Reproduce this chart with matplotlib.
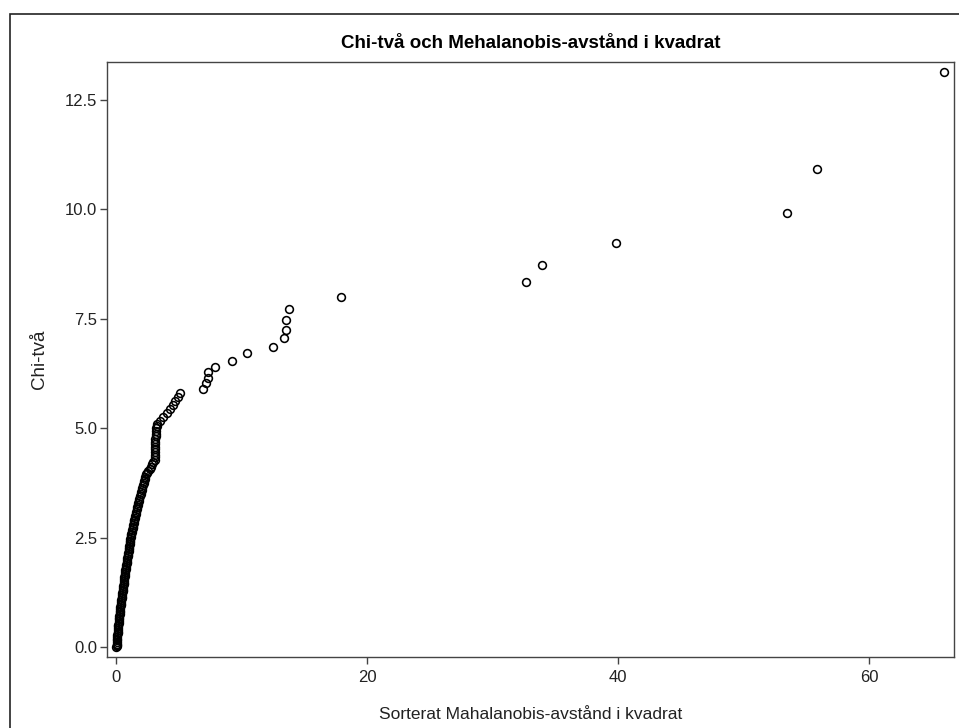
import matplotlib

matplotlib.use("Agg")
from matplotlib import pyplot, ticker
from matplotlib.patches import Rectangle

pyplot.rcParams["font.family"] = ["Liberation Sans", "DejaVu Sans"]

# sorted squared Mahalanobis distances (x) and chi-square quantiles (y)
mahal = [
    0.03, 0.04, 0.05, 0.06, 0.07, 0.08, 0.09, 0.10, 0.11, 0.12,
    0.13, 0.14, 0.16, 0.17, 0.19, 0.21, 0.22, 0.24, 0.26, 0.27,
    0.29, 0.30, 0.32, 0.33, 0.35, 0.36, 0.38, 0.40, 0.42, 0.44,
    0.46, 0.48, 0.50, 0.52, 0.54, 0.56, 0.58, 0.60, 0.62, 0.64,
    0.66, 0.67, 0.69, 0.71, 0.73, 0.75, 0.78, 0.80, 0.82, 0.84,
    0.86, 0.89, 0.91, 0.93, 0.96, 0.98, 1.00, 1.02, 1.04, 1.06,
    1.08, 1.10, 1.12, 1.14, 1.17, 1.19, 1.22, 1.25, 1.28, 1.31,
    1.34, 1.37, 1.40, 1.43, 1.46, 1.49, 1.52, 1.56, 1.60, 1.64,
    1.68, 1.72, 1.77, 1.81, 1.86, 1.90, 1.95, 2.00, 2.05, 2.10,
    2.15, 2.20, 2.24, 2.28, 2.34, 2.42, 2.50, 2.58, 2.68, 2.76,
    2.84, 2.95, 3.08, 3.10, 3.11, 3.11, 3.12, 3.12, 3.13, 3.13,
    3.14, 3.15, 3.15, 3.16, 3.20, 3.25, 3.29, 3.51, 3.77, 4.04,
    4.30, 4.52, 4.70, 4.92, 5.10,
    6.93, 7.15, 7.30, 7.35, 7.89, 9.24, 10.41, 12.53, 13.36, 13.57,
    13.57, 13.75, 17.94, 32.65, 33.97, 39.84, 53.44, 55.88, 66.0,
]
chi_tva = [
    0.00, 0.02, 0.05, 0.08, 0.11, 0.15, 0.19, 0.23, 0.27, 0.31,
    0.35, 0.39, 0.43, 0.47, 0.51, 0.55, 0.59, 0.63, 0.67, 0.71,
    0.75, 0.79, 0.83, 0.87, 0.91, 0.95, 0.99, 1.03, 1.07, 1.11,
    1.15, 1.19, 1.23, 1.27, 1.31, 1.35, 1.39, 1.43, 1.47, 1.51,
    1.55, 1.59, 1.63, 1.67, 1.71, 1.75, 1.79, 1.83, 1.87, 1.91,
    1.95, 1.99, 2.03, 2.07, 2.11, 2.15, 2.19, 2.23, 2.27, 2.31,
    2.35, 2.39, 2.43, 2.47, 2.51, 2.55, 2.59, 2.63, 2.67, 2.71,
    2.75, 2.79, 2.83, 2.87, 2.91, 2.95, 2.99, 3.04, 3.09, 3.14,
    3.19, 3.24, 3.29, 3.34, 3.39, 3.44, 3.49, 3.54, 3.59, 3.64,
    3.69, 3.74, 3.79, 3.84, 3.89, 3.94, 3.98, 4.02, 4.07, 4.12,
    4.17, 4.22, 4.27, 4.33, 4.39, 4.45, 4.51, 4.57, 4.63, 4.69,
    4.75, 4.81, 4.87, 4.93, 4.99, 5.05, 5.09, 5.16, 5.26, 5.34,
    5.43, 5.53, 5.62, 5.71, 5.81,
    5.90, 6.02, 6.15, 6.27, 6.39, 6.54, 6.71, 6.86, 7.05, 7.24,
    7.47, 7.72, 7.99, 8.34, 8.73, 9.22, 9.91, 10.92, 13.13,
]
x_ticks = [0, 20, 40, 60]
y_ticks = [0.0, 2.5, 5.0, 7.5, 10.0, 12.5]


def main():
    fig = pyplot.figure(figsize=(9.59, 7.28), dpi=100)
    ax = fig.add_axes([0.1116, 0.0975, 0.8832, 0.8173])

    # outer frame, cut off on the right and at the bottom like the screenshot
    fig.patches.append(
        Rectangle(
            (9.5 / 959, -0.05), 1.2, 1.05 - 14.5 / 728,
            transform=fig.transFigure, fill=False, edgecolor="#222222",
            linewidth=1.2, clip_on=False,
        )
    )

    ax.plot(
        mahal, chi_tva, linestyle="none", marker="o", markersize=5.6,
        markerfacecolor="none", markeredgecolor="black", markeredgewidth=1.15,
    )

    ax.set_xlim(-0.72, 66.77)
    ax.set_ylim(-0.228, 13.356)
    ax.xaxis.set_major_locator(ticker.FixedLocator(x_ticks))
    ax.yaxis.set_major_locator(ticker.FixedLocator(y_ticks))
    ax.yaxis.set_major_formatter(ticker.FormatStrFormatter("%.1f"))

    for s in ax.spines.values():
        s.set_color("#444444")
        s.set_linewidth(1.0)
    ax.tick_params(length=5, width=1, color="#444444", labelsize=12,
                   labelcolor="#222222")
    ax.tick_params(axis="x", pad=4)
    ax.tick_params(axis="y", pad=2)

    ax.set_title("Chi-två och Mehalanobis-avstånd i kvadrat",
                 fontsize=13.5, fontweight="bold", pad=10)
    ax.set_xlabel("Sorterat Mahalanobis-avstånd i kvadrat", fontsize=12.5,
                  color="#222222", labelpad=16)
    ax.set_ylabel("Chi-två", fontsize=13.5, color="#222222", labelpad=12)

    fig.savefig("out.png", dpi=100)


if __name__ == "__main__":
    main()
